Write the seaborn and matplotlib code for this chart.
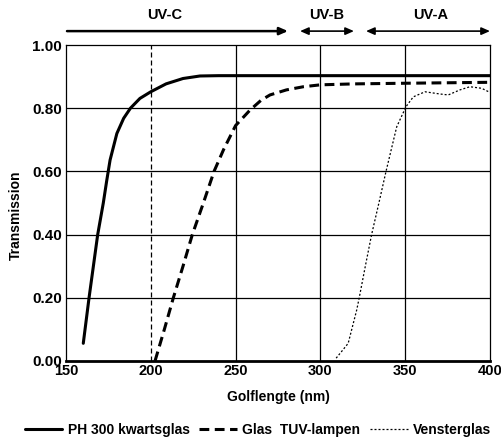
import matplotlib
matplotlib.use("Agg")
import matplotlib.pyplot as plt
import seaborn as sns
import numpy as np

# ---- data ----
kwarts_nm = [160.2, 163.6, 168.7, 172, 174, 176, 180, 184, 188, 193.6, 200, 209, 219, 229, 240, 300, 400]
kwarts_t  = [0.056, 0.20, 0.40, 0.50, 0.57, 0.636, 0.72, 0.768, 0.80, 0.831, 0.852, 0.877, 0.894, 0.902, 0.903, 0.903, 0.903]

tuv_nm = [202.5, 208, 213.3, 219, 224.5, 231, 237.3, 243, 250, 258.5, 265, 270.3, 280, 290, 300, 320, 350, 400]
tuv_t  = [0.0, 0.10, 0.20, 0.30, 0.40, 0.50, 0.60, 0.67, 0.745, 0.794, 0.825, 0.842, 0.858, 0.868, 0.874, 0.877, 0.879, 0.882]

venster_nm = [309.3, 312.5, 316.4, 321.4, 322.9, 326.5, 330.2, 334.5, 338.7, 345, 350.5, 354.8, 361.7, 370.5, 375.4, 382.3, 388.2, 395.1, 400]
venster_t  = [0.009, 0.03, 0.056, 0.161, 0.20, 0.30, 0.40, 0.50, 0.60, 0.741, 0.805, 0.836, 0.852, 0.845, 0.842, 0.858, 0.868, 0.863, 0.85]

series_labels = ["PH 300 kwartsglas", "Glas  TUV-lampen", "Vensterglas"]
x_ticks = [150, 200, 250, 300, 350, 400]
y_ticks = [0.0, 0.2, 0.4, 0.6, 0.8, 1.0]
y_ticklabels = ["0.00", "0.20", "0.40", "0.60", "0.80", "1.00"]
bands = [("UV-C", 150.6, 280.9, 208.4), ("UV-B", 288.0, 319.8, 303.6), ("UV-A", 326.9, 400.0, 364.8)]

# ---- style ----
sns.set_style("white")
FONT = ["Liberation Sans", "DejaVu Sans"]
plt.rcParams["font.family"] = FONT
plt.rcParams["font.weight"] = "bold"
for k in ["text.color", "axes.labelcolor", "xtick.color", "ytick.color"]:
    plt.rcParams[k] = "black"
FS = 10

fig = plt.figure(figsize=(5.01, 4.47), dpi=100)
ax = fig.add_axes([0.1317, 0.1924, 0.8463, 0.7069])

sns.lineplot(x=kwarts_nm, y=kwarts_t, ax=ax, color="black", lw=2.2,
             label=series_labels[0], sort=False, estimator=None)
sns.lineplot(x=tuv_nm, y=tuv_t, ax=ax, color="black", lw=2.2,
             label=series_labels[1], sort=False, estimator=None)
sns.lineplot(x=venster_nm, y=venster_t, ax=ax, color="black", lw=0.9,
             label=series_labels[2], sort=False, estimator=None)
lines = ax.get_lines()
lines[1].set_dashes([3.2, 1.8])
lines[2].set_dashes([1.6, 1.6])

# grid
for yv in y_ticks[1:-1]:
    ax.axhline(yv, color="black", lw=0.9, zorder=0)
for xv in x_ticks[2:-1]:
    ax.axvline(xv, color="black", lw=0.9, zorder=0)
ax.axvline(200, color="black", lw=0.9, dashes=(4, 2.4), zorder=0)

ax.set_xlim(150, 400)
ax.set_ylim(0, 1)
ax.set_xticks(x_ticks)
ax.set_yticks(y_ticks)
ax.set_yticklabels(y_ticklabels)
ax.tick_params(axis="x", length=0, labelsize=FS + 0.5, pad=2)
ax.tick_params(axis="y", length=0, labelsize=FS + 1, pad=3)
for lab in ax.get_xticklabels() + ax.get_yticklabels():
    lab.set_fontweight("bold")

for side in ["left", "right", "top"]:
    ax.spines[side].set_color("black")
    ax.spines[side].set_linewidth(0.9)
ax.spines["bottom"].set_color("black")
ax.spines["bottom"].set_linewidth(2.0)

ax.set_xlabel("Golflengte (nm)", fontsize=FS, fontweight="bold", labelpad=9)
ax.set_ylabel("Transmission", fontsize=FS, fontweight="bold", labelpad=8)
ax.yaxis.set_label_coords(-0.102, 0.46)

# UV band arrows
for i, (name, x0, x1, xc) in enumerate(bands):
    style = "-|>" if i == 0 else "<|-|>"
    lw = 1.8 if i == 0 else 1.2
    ax.annotate("", xy=(x1, 1.044), xytext=(x0, 1.044), xycoords="data",
                arrowprops=dict(arrowstyle=style + ",head_length=0.5,head_width=0.22",
                                color="black", lw=lw, shrinkA=0, shrinkB=0),
                annotation_clip=False)
    ax.text(xc, 1.095, name, ha="center", va="center", fontsize=FS + 0.5,
            fontweight="bold", clip_on=False)

ax.get_legend().remove()
leg = fig.legend(handles=lines[:3], labels=series_labels, loc="lower center",
                 bbox_to_anchor=(0.515, -0.005), ncol=3, frameon=False,
                 prop=dict(size=FS, weight="bold"),
                 handlelength=2.7, columnspacing=0.7, handletextpad=0.4)

fig.savefig("out.png", dpi=100)
